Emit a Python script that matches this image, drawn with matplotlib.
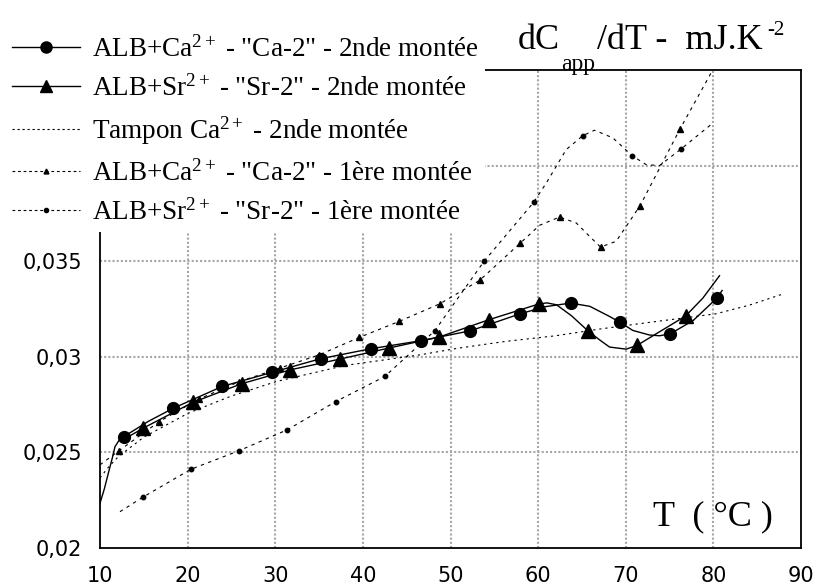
import matplotlib
matplotlib.use("Agg")
import matplotlib.pyplot as plt
from matplotlib.lines import Line2D

plt.rcParams['mathtext.fontset'] = 'custom'
plt.rcParams['mathtext.rm'] = 'Liberation Serif'
plt.rcParams['mathtext.it'] = 'Liberation Serif:italic'
plt.rcParams['mathtext.bf'] = 'Liberation Serif:bold'

# ---------------- data ----------------
x_ticks = [10, 20, 30, 40, 50, 60, 70, 80, 90]
y_ticks = [0.02, 0.025, 0.03, 0.035]
y_ticklabels = ["0,02", "0,025", "0,03", "0,035"]

labels = [r'ALB+Ca$^{2+}$ - "Ca-2" - 2nde montée',
          r'ALB+Sr$^{2+}$ - "Sr-2" - 2nde montée',
          r'Tampon Ca$^{2+}$ - 2nde montée',
          r'ALB+Ca$^{2+}$ - "Ca-2" - 1ère montée',
          r'ALB+Sr$^{2+}$ - "Sr-2" - 1ère montée']

# ALB+Ca2+ "Ca-2" 2nde montee : markers
ca2_T = [12.74, 18.36, 23.95, 29.58, 35.17, 40.9, 46.6, 52.27, 57.96, 63.7, 69.37, 75.07, 80.4]
ca2_dC = [0.02583, 0.02731, 0.02845, 0.02918, 0.02990, 0.03042, 0.03084, 0.03136,
          0.03225, 0.03281, 0.03180, 0.03120, 0.03307]
# its drawn curve
ca2_curve_T = [10.0, 10.5, 10.95, 11.4, 11.71, 12.2, 12.74, 15.5, 18.36, 23.95, 29.58, 35.17,
               40.9, 46.6, 52.27, 57.96, 60.8, 63.7, 65.9, 68.15, 69.37, 70.8, 72.7, 73.85,
               75.07, 77.7, 80.4, 81.0]
ca2_curve_dC = [0.02234, 0.0231, 0.02391, 0.0247, 0.0253, 0.02565, 0.02583, 0.02662, 0.02731,
                0.02845, 0.02918, 0.02990, 0.03042, 0.03084, 0.03136, 0.03225, 0.03262,
                0.03281, 0.03264, 0.03211, 0.03180, 0.03138, 0.03114, 0.0311, 0.03120,
                0.03190, 0.03307, 0.03347]

# ALB+Sr2+ "Sr-2" 2nde montee : markers
sr2_T = [14.94, 20.57, 26.15, 31.74, 37.37, 42.99, 48.69, 54.39, 60.06, 65.68, 71.30, 76.82]
sr2_dC = [0.02627, 0.02761, 0.02859, 0.02932, 0.02988, 0.03046, 0.03103, 0.03194,
          0.03276, 0.03136, 0.03060, 0.03213]
sr2_curve_T = [12.6, 14.94, 20.57, 26.15, 31.74, 37.37, 42.99, 48.69, 54.39, 60.06, 61.0,
               62.1, 63.8, 65.68, 67.0, 68.15, 70.05, 71.30, 76.82, 78.8, 80.7]
sr2_curve_dC = [0.02565, 0.02627, 0.02761, 0.02859, 0.02932, 0.02988, 0.03046, 0.03103,
                0.03194, 0.03276, 0.03282, 0.03272, 0.03215, 0.03136, 0.03089, 0.03051,
                0.03040, 0.03060, 0.03213, 0.03307, 0.03424]

# Tampon Ca2+ 2nde montee (no markers)
tampon_T = [10.0, 11.0, 12.1, 15.0, 20.07, 25.0, 30.15, 38.0, 46.5, 51.0, 56.2, 62.0, 67.0,
            72.7, 80.3, 84.1, 87.9]
tampon_dC = [0.02367, 0.02425, 0.02478, 0.0258, 0.02705, 0.02795, 0.02871, 0.02955, 0.0301,
             0.03046, 0.0308, 0.0311, 0.03145, 0.0318, 0.03225, 0.0327, 0.03328]

# ALB+Ca2+ "Ca-2" 1ere montee : markers
ca1_T = [12.17, 16.76, 21.32, 25.9, 30.52, 35.0, 39.57, 44.13, 48.77, 53.33, 57.97, 62.45,
         67.12, 71.64, 76.2]
ca1_dC = [0.02509, 0.02661, 0.02780, 0.02870, 0.02941, 0.03010, 0.03101, 0.03185, 0.03277,
          0.03400, 0.03595, 0.03731, 0.03574, 0.03791, 0.04192]
ca1_curve_T = [10.0, 12.17, 16.76, 21.32, 25.9, 30.52, 35.0, 39.57, 44.13, 48.77, 53.33,
               57.97, 60.17, 62.45, 64.35, 65.87, 67.12, 68.9, 70.05, 71.64, 76.2, 79.85]
ca1_curve_dC = [0.02435, 0.02509, 0.02661, 0.02780, 0.02870, 0.02941, 0.03010, 0.03101,
                0.03185, 0.03277, 0.03400, 0.03595, 0.03688, 0.03731, 0.03700, 0.0363,
                0.03574, 0.03604, 0.03682, 0.03791, 0.04192, 0.04494]

# ALB+Sr2+ "Sr-2" 1ere montee : markers
sr1_T = [14.86, 20.38, 25.88, 31.36, 36.91, 42.5, 48.2, 53.82, 59.49, 65.11, 70.73, 76.32]
sr1_dC = [0.02265, 0.02412, 0.02509, 0.02618, 0.02766, 0.02897, 0.03136, 0.03499, 0.03808,
          0.04157, 0.04052, 0.04087]
sr1_curve_T = [12.28, 14.86, 20.38, 25.88, 31.36, 36.91, 42.5, 48.2, 53.82, 59.49, 60.93,
               63.21, 65.11, 66.44, 68.53, 70.73, 72.33, 73.85, 76.32, 79.74]
sr1_curve_dC = [0.0219, 0.02265, 0.02412, 0.02509, 0.02618, 0.02766, 0.02897, 0.03136,
                0.03499, 0.03808, 0.03909, 0.04084, 0.04157, 0.04185, 0.04145, 0.04052,
                0.04005, 0.0400, 0.04087, 0.04215]

# ---------------- figure ----------------
W, H = 821, 588
fig = plt.figure(figsize=(W / 100, H / 100), dpi=100)
ax = fig.add_axes([100 / W, 1 - 548 / H, 701 / W, 478 / H])
ax.set_xlim(10, 90)
ax.set_ylim(0.02, 0.045)

grid_kw = dict(color='#a6a6a6', lw=1.5, ls=(0, (1, 1)), zorder=0)
for xv in x_ticks[1:-1]:
    ax.axvline(xv, **grid_kw)
for yv in [0.025, 0.03, 0.035, 0.04]:
    ax.axhline(yv, **grid_kw)

dash = (0, (3, 4))
dot = (0, (2, 3.5))
# curves
ax.plot(tampon_T, tampon_dC, color='black', lw=0.8, ls=dot, zorder=2)
ax.plot(ca1_curve_T, ca1_curve_dC, color='black', lw=0.8, ls=dash, zorder=2)
ax.plot(sr1_curve_T, sr1_curve_dC, color='black', lw=0.8, ls=dash, zorder=2)
ax.plot(ca1_T, ca1_dC, ls='none', marker='^', ms=4, color='black', zorder=2)
ax.plot(sr1_T, sr1_dC, ls='none', marker='o', ms=3.2, color='black', zorder=2)
ax.plot(ca2_curve_T, ca2_curve_dC, color='black', lw=1.0, zorder=3)
ax.plot(sr2_curve_T, sr2_curve_dC, color='black', lw=1.0, zorder=3)
ax.plot(ca2_T, ca2_dC, ls='none', marker='o', ms=8.5, color='black', zorder=4)
ax.plot(sr2_T, sr2_dC, ls='none', marker='^', ms=9.5, color='black', zorder=4)

ax.set_xticks(x_ticks)
ax.set_xticklabels([str(v) for v in x_ticks], fontfamily='DejaVu Sans', fontsize=15)
ax.set_yticks(y_ticks)
ax.set_yticklabels(y_ticklabels, fontfamily='DejaVu Sans', fontsize=15)
ax.tick_params(length=0, pad=13, axis='y')
ax.tick_params(length=0, pad=13, axis='x')
for s in ax.spines.values():
    s.set_linewidth(1.3)
    s.set_color('black')

# legend proxies
handles = [
    Line2D([], [], color='black', lw=1.0, marker='o', ms=8),
    Line2D([], [], color='black', lw=1.0, marker='^', ms=8.5),
    Line2D([], [], color='black', lw=0.8, ls=(0, (2, 2.5))),
    Line2D([], [], color='black', lw=0.8, ls=(0, (2.5, 2.5)), marker='^', ms=3.5),
    Line2D([], [], color='black', lw=0.8, ls=(0, (2.5, 2.5)), marker='o', ms=3),
]
leg = fig.legend(handles, labels, loc='upper left', bbox_to_anchor=(0.0, 1 - 24 / H),
                 bbox_transform=fig.transFigure, frameon=True, fancybox=False,
                 framealpha=1, facecolor='white', edgecolor='none',
                 prop={'family': 'Liberation Serif', 'size': 19.5},
                 handlelength=2.5, handletextpad=0.44, labelspacing=0.47,
                 borderpad=0.24, borderaxespad=0.2)

# axis title at the top right (pieces placed to mimic the sub/superscripts)
serif = 'Liberation Serif'
fig.text(518 / W, 1 - 49 / H, 'dC', fontfamily=serif, fontsize=26, va='baseline')
fig.text(561 / W, 1 - 70 / H, 'app', fontfamily=serif, fontsize=17, va='baseline')
fig.text(597 / W, 1 - 49 / H, '/dT -  mJ.K', fontfamily=serif, fontsize=26, va='baseline')
fig.text(767 / W, 1 - 35 / H, '-2', fontfamily=serif, fontsize=15, va='baseline')

fig.text(653 / W, 1 - 525 / H, 'T  ( °C )', fontfamily=serif,
         fontsize=26, va='baseline', ha='left')

fig.savefig('out.png', dpi=100)
